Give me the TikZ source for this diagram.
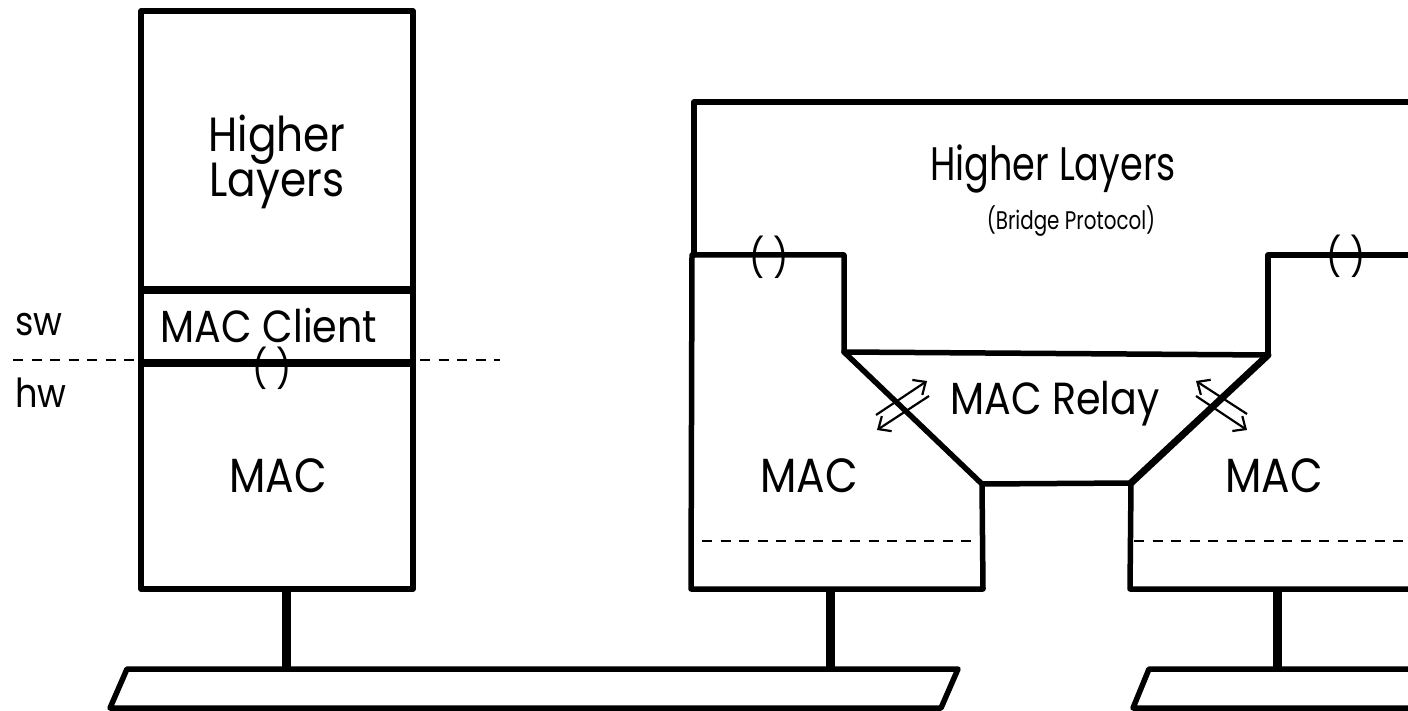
\documentclass[tikz,border=0pt]{standalone}
\usepackage{fontspec}
\setmainfont{Poppins}[FakeStretch=0.88]
\newfontfamily\condfont{Poppins}[FakeStretch=0.78]
\usetikzlibrary{arrows.meta}
\begin{document}
\begin{tikzpicture}[x=1pt,y=-1pt,
  outline/.style={line width=5.5pt, line join=round, line cap=round},
  divider/.style={line width=7.5pt},
  stem/.style={line width=9pt},
  dashline/.style={line width=2.2pt, dash pattern=on 10pt off 8.5pt},
  lbl/.style={inner sep=0pt, anchor=base, font=\fontsize{45}{50}\selectfont},
  side/.style={inner sep=0pt, anchor=base west, font=\fontsize{40}{48}\selectfont},
  paren/.style={inner sep=0pt, font=\fontsize{38}{44}\selectfont},
  dbl/.style={line width=2.2pt, -{Straight Barb[length=10pt,width=18pt,line width=2.2pt]}}
]
\useasboundingbox (0,0) rectangle (1408,711);
\clip (0,0) rectangle (1408,711);

% ---------- left station ----------
\draw[outline] (141,11) rectangle (413,589);
\draw[divider] (141,290) -- (413,290);
\draw[divider] (141,363) -- (413,363);
\draw[dashline] (13,360) -- (500,360);
\node[lbl, font=\fontsize{48}{50}\selectfont] (hl1) at (277,152) {Higher};
\node[lbl, font=\fontsize{48}{50}\selectfont] (hl2) at (277,197) {Layers};
\node[lbl] (client) at (269,342) {MAC Client};
\node[paren] (p1) at (272,368) {(\hspace{9pt})};
\node[lbl, font=\fontsize{48}{50}\selectfont] (mac1) at (278,492) {MAC};
\node[side] (sw) at (15,335) {sw};
\node[side] (hw) at (15,407) {hw};

% ---------- bridge ----------
\draw[outline] (694,255) -- (694,102) -- (1420,102);
\draw[outline] (844,352) -- (1268,355);
\draw[outline] (691,589) -- (692,255) -- (844,255) -- (844,352) -- (982,484) -- (983,589) -- cycle;
\draw[outline] (982,484) -- (1131,483);
\draw[outline] (1420,255) -- (1268,255) -- (1268,355);
\draw[outline, line width=7pt] (1268,355) -- (1131,483);
\draw[outline] (1131,483) -- (1130,589) -- (1420,589);
\draw[dashline] (702,541) -- (973,541);
\draw[dashline] (1134,541) -- (1410,541);

\node[lbl, font=\condfont\fontsize{47}{50}\selectfont] (bhl) at (1053,181) {Higher Layers};
\node[inner sep=0pt, font=\condfont\fontsize{25.5}{30}\selectfont] (bp) at (1071,221) {(Bridge Protocol)};
\node[paren] (p2) at (769,257) {(\hspace{9pt})};
\node[paren] (p3) at (1346,256) {(\hspace{9pt})};
\node[lbl] (relay) at (1055,414) {MAC Relay};
\node[lbl, font=\fontsize{48}{50}\selectfont] (mac2) at (809,492) {MAC};
\node[lbl, font=\fontsize{48}{50}\selectfont] (mac3) at (1274,492) {MAC};

% relay arrows
\coordinate (a1s) at (876,415); \coordinate (a1e) at (927,381);
\coordinate (a2s) at (929,396); \coordinate (a2e) at (877,430);
\coordinate (a3s) at (1247,414); \coordinate (a3e) at (1196,381);
\coordinate (a4s) at (1196,396); \coordinate (a4e) at (1247,430);
\draw[dbl] (a1s) -- (a1e);
\draw[dbl] (a2s) -- (a2e);
\draw[dbl] (a3s) -- (a3e);
\draw[dbl] (a4s) -- (a4e);

% ---------- buses and stems ----------
\draw[outline] (127,669) -- (958,669) -- (941,708) -- (110,708) -- cycle;
\draw[outline] (1420,669) -- (1149,669) -- (1133,708) -- (1420,708);
\coordinate (s1t) at (286,589); \coordinate (s1b) at (286,669);
\coordinate (s2t) at (830,589); \coordinate (s2b) at (830,669);
\coordinate (s3t) at (1277,589); \coordinate (s3b) at (1277,669);
\draw[stem] (s1t) -- (s1b);
\draw[stem] (s2t) -- (s2b);
\draw[stem] (s3t) -- (s3b);
\end{tikzpicture}
\end{document}
